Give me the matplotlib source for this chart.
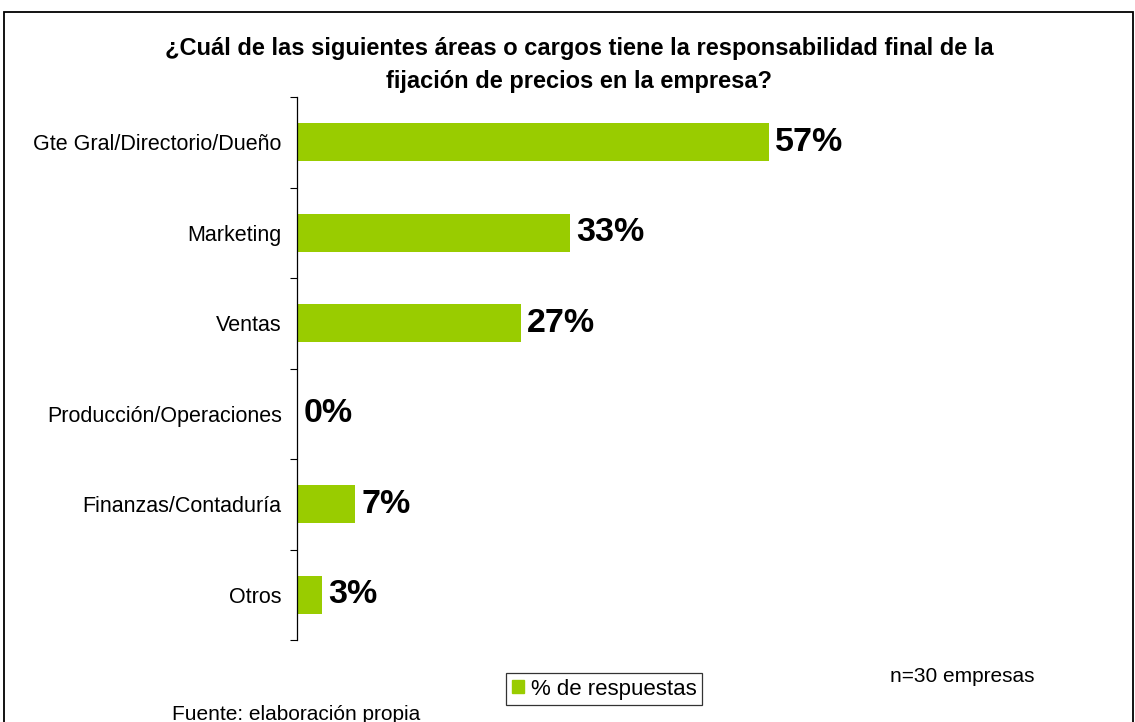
import matplotlib
matplotlib.use("Agg")
import matplotlib.pyplot as plt
from matplotlib.patches import Rectangle, Patch

plt.rcParams['font.family'] = ['Liberation Sans', 'DejaVu Sans']

categorias = ['Gte Gral/Directorio/Dueño', 'Marketing', 'Ventas',
              'Producción/Operaciones', 'Finanzas/Contaduría', 'Otros']
porcentajes = [57, 33, 27, 0, 7, 3]

titulo = ('¿Cuál de las siguientes áreas o cargos tiene la responsabilidad final de la\n'
          'fijación de precios en la empresa?')
verde = '#99CC00'

fig = plt.figure(figsize=(11.35, 7.22), dpi=100)
ax = fig.add_axes([297 / 1135, 1 - 640 / 722, (1100 - 297) / 1135, (640 - 97) / 722])

pos = list(range(len(categorias)))
ax.barh(pos, porcentajes, height=0.42, color=verde)
for y, v in zip(pos, porcentajes):
    ax.text(v + 0.75, y, f'{v}%', va='center', ha='left',
            fontsize=24.5, fontweight='bold', color='black')

ax.set_xlim(0, 97)
ax.set_ylim(len(categorias) - 0.5, -0.5)
ax.set_xticks([])
ax.set_yticks(pos)
ax.set_yticklabels(categorias, fontsize=15.5)
ax.set_yticks([p - 0.5 for p in pos] + [len(pos) - 0.5], minor=True)
ax.tick_params(axis='y', which='major', length=0, pad=11)
ax.tick_params(axis='y', which='minor', length=5, width=0.8, direction='out')
for s in ['top', 'right', 'bottom']:
    ax.spines[s].set_visible(False)
ax.spines['left'].set_linewidth(0.9)

fig.text(579 / 1135, 1 - 65 / 722, titulo, ha='center', va='center',
         fontsize=17, fontweight='bold', linespacing=1.6)

leg = fig.legend(handles=[Patch(color=verde, label='% de respuestas')],
                 loc='center', bbox_to_anchor=(604 / 1135, 1 - 689 / 722),
                 fontsize=16, frameon=True, fancybox=False, edgecolor='black',
                 handlelength=0.55, handleheight=0.55, handletextpad=0.3,
                 borderpad=0.25)
leg.get_frame().set_linewidth(0.9)

fig.text(890 / 1135, 1 - 677 / 722, 'n=30 empresas', ha='left', va='center', fontsize=15)
fig.text(172 / 1135, 1 - 714 / 722, 'Fuente: elaboración propia', ha='left', va='center',
         fontsize=15)

# marco exterior
fig.patches.append(Rectangle((4 / 1135, -0.05), (1133 - 4) / 1135, 1 - 12 / 722 + 0.05,
                             transform=fig.transFigure, fill=False,
                             edgecolor='black', linewidth=1.3))

fig.savefig('out.png', dpi=100)
